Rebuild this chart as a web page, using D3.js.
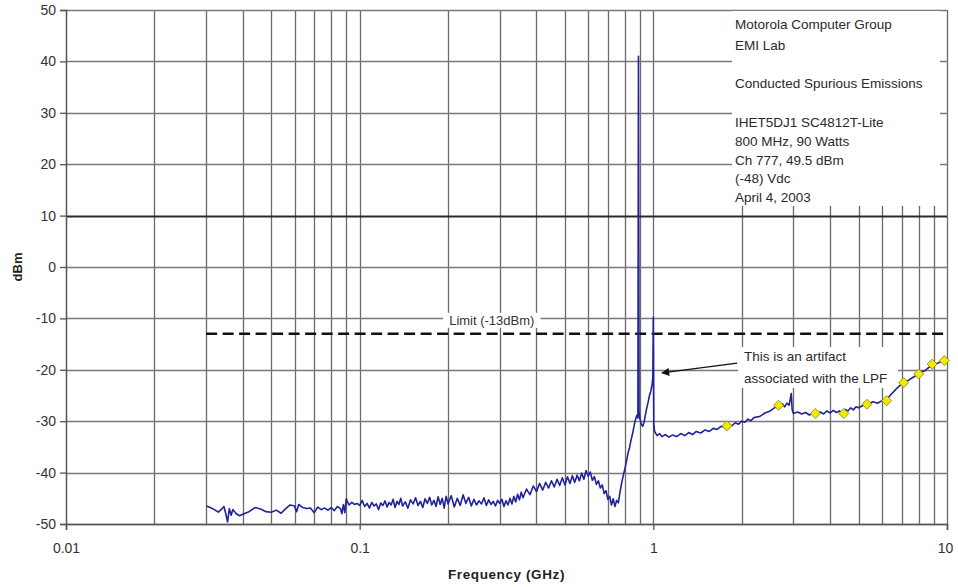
<!DOCTYPE html>
<html>
<head>
<meta charset="utf-8">
<script src="https://cdn.jsdelivr.net/npm/d3@7"></script>
<style>
  body { margin: 0; background: #fff; }
  svg { display: block; font-family: "Liberation Sans", Arial, sans-serif; }
</style>
</head>
<body>
<svg id="chart" width="958" height="587"></svg>
<script>
// measured spectrum, [frequency GHz, level dBm]
var trace = [
  [0.030,-46.5],[0.031,-46.8],[0.032,-47.2],[0.033,-47.7],[0.034,-47.0],[0.0345,-46.6],
  [0.035,-48.0],[0.0355,-49.6],[0.036,-47.0],[0.0365,-48.3],[0.037,-47.2],[0.038,-48.0],
  [0.039,-48.4],[0.040,-48.1],[0.042,-47.6],[0.044,-46.8],[0.046,-47.1],[0.048,-47.6],
  [0.050,-47.7],[0.052,-47.3],[0.054,-47.9],[0.056,-47.0],[0.058,-46.3],[0.060,-46.5],
  [0.061,-47.6],[0.062,-46.2],[0.064,-46.8],[0.066,-47.0],[0.068,-46.9],[0.070,-47.8],
  [0.072,-46.7],[0.074,-47.2],[0.076,-46.9],[0.078,-47.3],[0.080,-46.8],[0.082,-47.4],
  [0.084,-46.6],[0.086,-47.0],[0.087,-48.0],[0.088,-46.2],[0.089,-47.8],[0.090,-45.1],
  [0.092,-46.3],[0.094,-45.8],[0.096,-46.2],[0.098,-46.0],[0.100,-46.4],
  [0.102,-45.4],[0.104,-46.6],[0.106,-46.0],[0.108,-46.9],[0.110,-45.8],[0.112,-46.5],
  [0.114,-46.1],[0.116,-47.2],[0.118,-45.9],[0.120,-46.4],[0.122,-45.5],[0.124,-46.7],
  [0.126,-45.8],[0.128,-46.3],[0.130,-45.2],[0.132,-46.8],[0.134,-45.6],[0.136,-46.2],
  [0.138,-45.0],[0.140,-46.5],[0.143,-45.7],[0.146,-46.9],[0.149,-45.3],[0.152,-46.1],
  [0.155,-44.9],[0.158,-46.4],[0.161,-45.6],[0.164,-46.8],[0.167,-45.1],[0.170,-46.0],
  [0.173,-44.8],[0.176,-46.3],[0.179,-45.4],[0.182,-46.6],[0.185,-44.7],[0.188,-46.2],
  [0.191,-45.0],[0.194,-46.9],[0.197,-44.6],[0.200,-46.1],[0.205,-44.5],[0.210,-46.7],
  [0.215,-45.0],[0.220,-46.4],[0.225,-44.3],[0.230,-46.0],[0.235,-44.8],[0.240,-46.5],
  [0.245,-45.2],[0.250,-46.3],[0.255,-45.5],[0.260,-46.1],[0.265,-44.9],[0.270,-46.4],
  [0.275,-45.3],[0.280,-46.2],[0.285,-45.6],[0.290,-46.5],[0.295,-45.4],[0.300,-46.0],
  [0.305,-45.2],[0.310,-46.6],[0.315,-45.5],[0.320,-46.3],[0.325,-45.0],[0.330,-46.1],
  [0.335,-44.6],[0.340,-45.7],[0.345,-44.2],[0.350,-45.3],[0.355,-43.8],[0.360,-44.9],
  [0.370,-43.2],[0.380,-44.3],[0.390,-42.6],[0.400,-43.7],[0.410,-42.1],[0.420,-43.4],
  [0.430,-41.9],[0.440,-43.0],[0.450,-41.6],[0.460,-42.8],[0.470,-41.3],[0.480,-42.5],
  [0.490,-41.0],[0.500,-42.4],[0.510,-40.8],[0.520,-42.1],[0.530,-40.6],[0.540,-41.9],
  [0.550,-40.5],[0.560,-41.6],[0.570,-40.1],[0.580,-41.3],[0.590,-39.6],[0.600,-40.7],
  [0.610,-39.9],[0.620,-41.5],[0.630,-40.8],[0.640,-42.3],[0.650,-41.6],[0.660,-43.0],
  [0.670,-42.4],[0.680,-44.1],[0.690,-43.5],[0.700,-45.2],[0.710,-44.6],[0.720,-46.3],
  [0.730,-45.1],[0.740,-46.6],[0.750,-45.4],[0.760,-45.9],[0.770,-43.8],[0.780,-42.0],
  [0.790,-40.6],[0.800,-39.3],[0.810,-37.8],[0.820,-36.2],[0.830,-35.1],[0.840,-33.6],
  [0.850,-32.4],[0.860,-30.9],[0.870,-29.6],[0.880,-28.8],[0.886,-29.4],[0.890,41.0],
  [0.894,-28.2],[0.900,-29.5],[0.910,-30.6],[0.920,-31.0],[0.930,-30.2],[0.940,-28.7],
  [0.950,-27.4],[0.960,-26.3],[0.970,-25.0],[0.980,-24.2],[0.990,-23.0],[0.996,-21.5],
  [1.000,-9.8],[1.004,-30.5],[1.010,-32.0],
  [1.03,-32.8],[1.05,-32.4],[1.07,-33.0],[1.10,-32.6],[1.13,-33.1],[1.16,-32.7],
  [1.20,-33.0],[1.24,-32.4],[1.28,-32.8],[1.32,-32.2],[1.36,-32.6],[1.40,-32.0],
  [1.45,-32.3],[1.50,-31.7],[1.55,-32.0],[1.60,-31.4],[1.65,-31.6],[1.70,-31.0],
  [1.75,-31.2],[1.80,-30.7],[1.85,-30.9],[1.90,-30.3],[1.95,-30.6],[2.00,-30.0],
  [2.05,-30.2],[2.10,-29.6],[2.15,-29.9],[2.20,-29.3],[2.30,-29.1],[2.40,-28.4],
  [2.50,-28.0],[2.60,-27.3],[2.65,-26.8],[2.70,-27.4],[2.75,-26.6],[2.80,-27.2],
  [2.85,-26.5],[2.90,-26.9],[2.95,-24.6],[2.97,-27.8],[3.00,-28.5],[3.10,-28.2],
  [3.20,-28.6],[3.30,-28.3],[3.40,-28.8],[3.50,-28.4],[3.60,-28.7],[3.70,-28.2],
  [3.80,-28.6],[3.90,-28.0],[4.00,-28.4],[4.10,-27.9],[4.20,-28.3],[4.30,-28.0],
  [4.40,-28.5],[4.50,-27.7],[4.60,-28.0],[4.70,-27.4],[4.80,-27.8],[4.90,-27.2],
  [5.00,-27.4],[5.20,-26.9],[5.40,-26.6],[5.60,-26.2],[5.80,-26.5],[6.00,-26.0],
  [6.20,-25.9],[6.40,-25.0],[6.60,-24.2],[6.80,-23.4],[7.00,-22.8],[7.20,-22.4],
  [7.40,-22.0],[7.60,-21.6],[7.80,-21.2],[8.00,-20.8],[8.20,-20.4],[8.40,-20.2],
  [8.60,-19.7],[8.80,-19.3],[9.00,-18.9],[9.20,-18.8],[9.40,-18.6],[9.60,-18.3],
  [9.80,-18.2],[10.0,-18.0]
];

// harmonic markers
var harmFreq  = [1.78, 2.67, 3.56, 4.45, 5.34, 6.23, 7.12, 8.01, 8.90, 9.79];
var harmLevel = [-30.9, -26.9, -28.5, -28.5, -26.7, -26.0, -22.5, -20.8, -18.9, -18.2];

var limitLevel = -13;
var limitRange = [0.03, 10];
var xTickLabels = [0.01, 0.1, 1, 10];
var yTickValues = [-50, -40, -30, -20, -10, 0, 10, 20, 30, 40, 50];

var infoLines = [
  "Motorola Computer Group", "EMI Lab", "",
  "Conducted Spurious Emissions", "",
  "IHET5DJ1 SC4812T-Lite", "800 MHz, 90 Watts", "Ch 777, 49.5 dBm", "(-48) Vdc", "April 4, 2003"
];
var infoBaselines = [29, 50, 0, 88, 0, 127, 146, 165, 183, 202];

var noteLines = ["This is an artifact", "associated with the LPF"];
var arrowFrom = [1.93, -18.7];
var arrowTo = [1.07, -20.6];

var margin = {top: 10, right: 11, bottom: 63, left: 66},
    width = 958 - margin.left - margin.right,
    height = 587 - margin.top - margin.bottom;

var svg = d3.select("#chart");
var g = svg.append("g").attr("transform", "translate(" + margin.left + "," + margin.top + ")");

var x = d3.scaleLog().domain([0.01, 10]).range([0, width]);
var y = d3.scaleLinear().domain([-50, 50]).range([height, 0]);

// grid
g.append("g").selectAll("line")
  .data(x.ticks().filter(function(d) { return d > 0.0101; }))
  .enter().append("line")
    .attr("x1", function(d) { return Math.round(x(d)) + 0.5; })
    .attr("x2", function(d) { return Math.round(x(d)) + 0.5; })
    .attr("y1", 0).attr("y2", height)
    .attr("stroke", "#6a6a6a").attr("stroke-width", 1.3);

g.append("g").selectAll("line")
  .data(yTickValues)
  .enter().append("line")
    .attr("x1", 0).attr("x2", width)
    .attr("y1", function(d) { return Math.round(y(d)) + 0.5; })
    .attr("y2", function(d) { return Math.round(y(d)) + 0.5; })
    .attr("stroke", function(d) { return d == 10 ? "#2a2a2a" : "#7a7a7a"; })
    .attr("stroke-width", function(d) { return d == 10 ? 1.8 : 1.3; });

// axes
var yAxis = g.append("g").call(d3.axisLeft(y).tickValues(yTickValues).tickSize(6).tickPadding(4).tickFormat(function(d) { return String(d); }));
var xAxis = g.append("g").attr("transform", "translate(0," + height + ")")
  .call(d3.axisBottom(x).tickValues(xTickLabels).tickSize(6).tickPadding(13).tickFormat(function(d) { return String(d); }));
[yAxis, xAxis].forEach(function(a) {
  a.select(".domain").attr("stroke", "#555").attr("stroke-width", 1.5);
  a.selectAll(".tick line").attr("stroke", "#555").attr("stroke-width", 1.3);
  a.selectAll("text").attr("fill", "#333").style("font-size", "14px").style("font-family", "Liberation Sans, Arial, sans-serif");
});
// 10 GHz label sits a little left so it isn't clipped
xAxis.selectAll(".tick text").filter(function(d) { return d == 10; }).attr("dx", -2);

svg.append("text")
  .attr("x", margin.left + x(0.1) + (x(1) - x(0.1)) / 2)
  .attr("y", 579)
  .attr("text-anchor", "middle")
  .style("font-size", "13.5px").style("font-weight", "bold").style("letter-spacing", "0.6px")
  .attr("fill", "#222")
  .text("Frequency (GHz)");

svg.append("text")
  .attr("transform", "translate(22," + (margin.top + y(0)) + ") rotate(-90)")
  .attr("text-anchor", "middle")
  .style("font-size", "13px").style("font-weight", "bold")
  .attr("fill", "#222")
  .text("dBm");

// info box top right
g.append("rect")
  .attr("x", 666).attr("y", 1).attr("width", 208).attr("height", 195)
  .attr("fill", "#fff");
g.append("g").selectAll("text")
  .data(infoLines.map(function(t, i) { return {t: t, b: infoBaselines[i]}; }).filter(function(d) { return d.t; }))
  .enter().append("text")
    .attr("x", 669)
    .attr("y", function(d) { return d.b - margin.top; })
    .style("font-size", "13.5px")
    .attr("fill", "#2a2a2a")
    .text(function(d) { return d.t; });

// limit label
var limGroup = g.append("g");
var limLabel = limGroup.append("text")
  .attr("x", x(0.3) - 8)
  .attr("y", y(limitLevel) - 9)
  .attr("text-anchor", "middle")
  .style("font-size", "13px")
  .attr("fill", "#333")
  .text("Limit (-13dBm)");
var lb = limLabel.node().getBBox();
limGroup.insert("rect", "text")
  .attr("x", lb.x - 6).attr("y", lb.y).attr("width", lb.width + 12).attr("height", lb.height)
  .attr("fill", "#fff");

// annotation note
g.append("rect")
  .attr("x", 672).attr("y", 337).attr("width", 160).attr("height", 41)
  .attr("fill", "#fff");
g.append("g").selectAll("text")
  .data(noteLines)
  .enter().append("text")
    .attr("x", 678)
    .attr("y", function(d, i) { return 351 + i * 22; })
    .style("font-size", "13.5px")
    .attr("fill", "#2a2a2a")
    .text(function(d) { return d; });

// limit line
g.append("line")
  .attr("x1", x(limitRange[0])).attr("x2", x(limitRange[1]))
  .attr("y1", y(limitLevel)).attr("y2", y(limitLevel))
  .attr("stroke", "#111").attr("stroke-width", 2.6)
  .attr("stroke-dasharray", "11,5.5");

// spectrum trace
var line = d3.line()
  .x(function(d) { return x(d[0]); })
  .y(function(d) { return y(d[1]); });
g.append("path")
  .datum(trace)
  .attr("fill", "none")
  .attr("stroke", "#22229a")
  .attr("stroke-width", 1.6)
  .attr("stroke-linejoin", "round")
  .attr("d", line);

// harmonic markers
g.append("g").selectAll("path")
  .data(harmFreq.map(function(f, i) { return [f, harmLevel[i]]; }))
  .enter().append("path")
    .attr("d", d3.symbol().type(d3.symbolSquare).size(50))
    .attr("transform", function(d) { return "translate(" + x(d[0]) + "," + y(d[1]) + ") rotate(45)"; })
    .attr("fill", "#f2ea00")
    .attr("stroke", "#8d8a10")
    .attr("stroke-width", 0.8);

// arrow
svg.append("defs").append("marker")
  .attr("id", "head")
  .attr("viewBox", "0 0 10 10")
  .attr("refX", 9).attr("refY", 5)
  .attr("markerWidth", 10).attr("markerHeight", 8)
  .attr("markerUnits", "userSpaceOnUse")
  .attr("orient", "auto")
  .append("path").attr("d", "M0,0 L10,5 L0,10 z").attr("fill", "#111");
g.append("line")
  .attr("x1", x(arrowFrom[0])).attr("y1", y(arrowFrom[1]))
  .attr("x2", x(arrowTo[0])).attr("y2", y(arrowTo[1]))
  .attr("stroke", "#111").attr("stroke-width", 1.3)
  .attr("marker-end", "url(#head)");
</script>
</body>
</html>
